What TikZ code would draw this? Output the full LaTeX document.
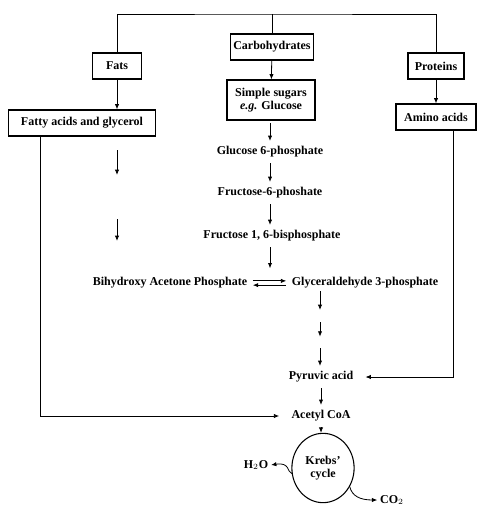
\documentclass[tikz,border=0pt]{standalone}
\usepackage{fontspec}
\setmainfont{Liberation Serif}
\usetikzlibrary{arrows.meta,shapes.geometric}

\begin{document}
\begin{tikzpicture}[x=0.75pt, y=-0.75pt, >={Latex[length=4pt,width=3.2pt]},
  font=\fontsize{9}{10}\selectfont\bfseries,
  box/.style={rectangle, draw, thick, minimum height=19.5pt, inner xsep=2pt, align=center},
  stage/.style={inner sep=2pt, align=center},
  link/.style={semithick, shorten >=2pt, shorten <=2pt}]
  \useasboundingbox (0,0) rectangle (477,511);
  % food classes
  \node[box, minimum width=62pt] (carb) at (272,47) {Carbohydrates};
  \node[box, minimum width=37pt] (fats) at (117,66) {Fats};
  \node[box, minimum width=42pt] (prot) at (436,66) {Proteins};
  \coordinate (top) at (270,14);
  \draw[semithick] (fats.north) |- (top) -| (prot.north);
  \draw[semithick] (carb.north) -- (carb.north |- top);
  % digestion products
  \node[box, minimum width=66pt, minimum height=30pt] (sugar) at (271,100) {Simple sugars\\\textit{e.g.} Glucose};
  \node[box, minimum width=110pt] (fatty) at (82,123) {Fatty acids and glycerol};
  \node[box, minimum width=60pt] (amino) at (436,117) {Amino acids};
  \draw[->, semithick] (carb) -- (sugar);
  \draw[->, semithick] (fats) -- (fats |- fatty.north);
  \draw[->, semithick] (prot) -- (amino);
  % glycolysis
  \node[stage] (g6p) at (270,152) {Glucose 6-phosphate};
  \node[stage] (f6p) at (270,193) {Fructose-6-phoshate};
  \node[stage] (fbp) at (272,236) {Fructose 1, 6-bisphosphate};
  \node[stage] (dhap) at (170,283) {Bihydroxy Acetone Phosphate};
  \node[stage] (gap) at (365,283) {Glyceraldehyde 3-phosphate};
  \coordinate (split) at (270,271);
  \draw[->, link] (sugar.south -| g6p) -- (g6p);
  \draw[->, link] (g6p) -- (f6p);
  \draw[->, link] (f6p) -- (fbp.north -| f6p);
  \draw[->, link] (fbp.south -| split) -- (split);
  \draw[->, link] ([yshift=1.6pt]dhap.east) -- ([yshift=1.6pt]gap.west);
  \draw[<-, link] ([yshift=-1.6pt]dhap.east) -- ([yshift=-1.6pt]gap.west);
  % fat path
  \coordinate (l1) at (117,150);
  \coordinate (l2) at (117,175);
  \coordinate (l3) at (117,219);
  \coordinate (l4) at (117,241);
  \draw[->, semithick] (l1) -- (l2);
  \draw[->, semithick] (l3) -- (l4);
  % pyruvate and acetyl CoA
  \node[stage] (pyr) at (321,377) {Pyruvic acid};
  \node[stage] (acoa) at (321,416) {Acetyl CoA};
  \coordinate (s1) at (320,316);
  \coordinate (s2) at (320,342);
  \draw[->, semithick, shorten >=4.5pt] (gap.south -| s1) -- (s1);
  \draw[->, semithick, shorten >=4pt, shorten <=4.5pt] (s1) -- (s2);
  \draw[->, semithick, shorten <=4.5pt, shorten >=2pt] (s2) -- (pyr.north -| s2);
  \draw[->, link] (pyr) -- (acoa);
  \draw[->, semithick, shorten >=7pt] ([xshift=24pt]fatty.south west) |- (acoa.west);
  \draw[->, semithick, shorten >=7pt] ([xshift=-17pt]amino.south east) |- (pyr.east);
  % Krebs' cycle
  \node[ellipse, draw, thick, minimum width=42pt, minimum height=52pt, align=center] (krebs) at (323,468) {Krebs'\\cycle};
  \node[stage] (h2o) at (256,465) {H$_2$O};
  \node[stage] (co2) at (392,500) {CO$_2$};
  \draw[->, semithick, shorten <=2pt] (acoa) -- (acoa |- krebs.north);
  \draw[->, semithick] (krebs.190) .. controls (287,472) and (290,462) .. (h2o.east);
  \draw[->, semithick] (krebs.-35) .. controls (352,496) and (360,500) .. (co2.west);
\end{tikzpicture}
\end{document}
